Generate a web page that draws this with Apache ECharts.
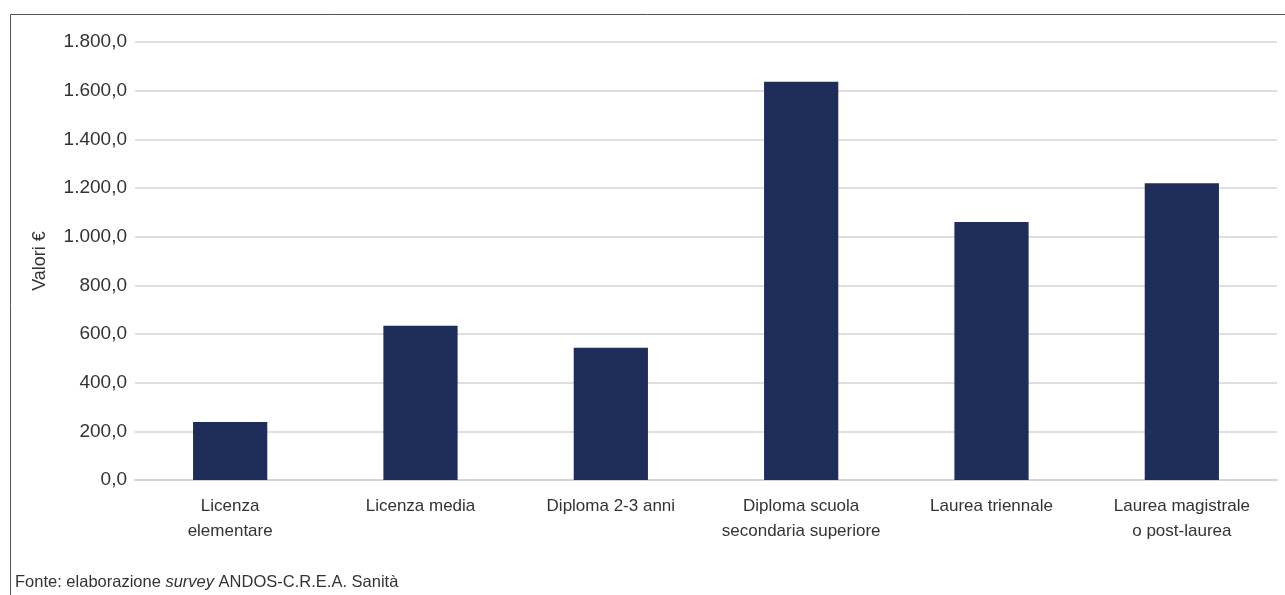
<!DOCTYPE html>
<html>
<head>
<meta charset="utf-8">
<title>Valori € per titolo di studio</title>
<script src="https://cdn.jsdelivr.net/npm/echarts@6/dist/echarts.min.js"></script>
<style>
  html, body { margin: 0; padding: 0; background: #fff; }
  #chart { width: 1285px; height: 595px; }
</style>
</head>
<body>
<div id="chart"></div>
<script>
// Titolo di studio (categorie dell'asse X)
const categories = [
  'Licenza\nelementare',
  'Licenza media',
  'Diploma 2-3 anni',
  'Diploma scuola\nsecondaria superiore',
  'Laurea triennale',
  'Laurea magistrale\no post-laurea'
];

// Valori in euro per ciascuna categoria
const values = [238, 634, 543, 1637, 1060, 1220];

// Scala dell'asse Y
const yMin = 0;
const yMax = 1800;
const yStep = 200;

const fontFamily = '"Liberation Sans", Arial, sans-serif';
const textColor = '#333333';

// Numeri in formato italiano: 1.800,0
function formatIt(v) {
  const parts = v.toFixed(1).split('.');
  const intPart = parts[0].replace(/\B(?=(\d{3})+(?!\d))/g, '.');
  return intPart + ',' + parts[1];
}

const chart = echarts.init(document.getElementById('chart'), null, { renderer: 'canvas' });

chart.setOption({
  animation: false,
  backgroundColor: '#ffffff',
  grid: { left: 135, right: 8, top: 42, bottom: 115, containLabel: false },
  xAxis: {
    type: 'category',
    data: categories,
    axisLine: { show: true, lineStyle: { color: '#d4d4d4', width: 2 } },
    axisTick: { show: false },
    axisLabel: {
      color: textColor,
      fontFamily: fontFamily,
      fontSize: 17,
      lineHeight: 25,
      margin: 14,
      interval: 0
    }
  },
  yAxis: {
    type: 'value',
    min: yMin,
    max: yMax,
    interval: yStep,
    name: 'Valori €',
    nameLocation: 'middle',
    nameRotate: 90,
    nameGap: 86,
    nameTextStyle: { color: textColor, fontFamily: fontFamily, fontSize: 18 },
    axisLine: { show: false },
    axisTick: { show: false },
    axisLabel: {
      color: textColor,
      fontFamily: fontFamily,
      fontSize: 19,
      margin: 8,
      formatter: formatIt
    },
    splitLine: { lineStyle: { color: '#d4d4d4', width: 1.6 } }
  },
  series: [{
    type: 'bar',
    data: values,
    barWidth: '39%',
    itemStyle: { color: '#1e2d5a' },
    z: 3
  }],
  graphic: [
    // cornice: bordo superiore e sinistro
    {
      type: 'polyline',
      shape: { points: [[10.5, 595], [10.5, 14.5], [1285, 14.5]] },
      style: { stroke: '#555555', lineWidth: 1, fill: null },
      silent: true
    },
    // fonte
    {
      type: 'text',
      left: 15,
      top: 574,
      style: {
        text: '{n|Fonte: elaborazione }{i|survey}{n| ANDOS-C.R.E.A. Sanità}',
        rich: {
          n: { fontFamily: fontFamily, fontSize: 16.5, fill: textColor },
          i: { fontFamily: fontFamily, fontSize: 16.5, fontStyle: 'italic', fill: textColor }
        }
      }
    }
  ]
});
</script>
</body>
</html>
